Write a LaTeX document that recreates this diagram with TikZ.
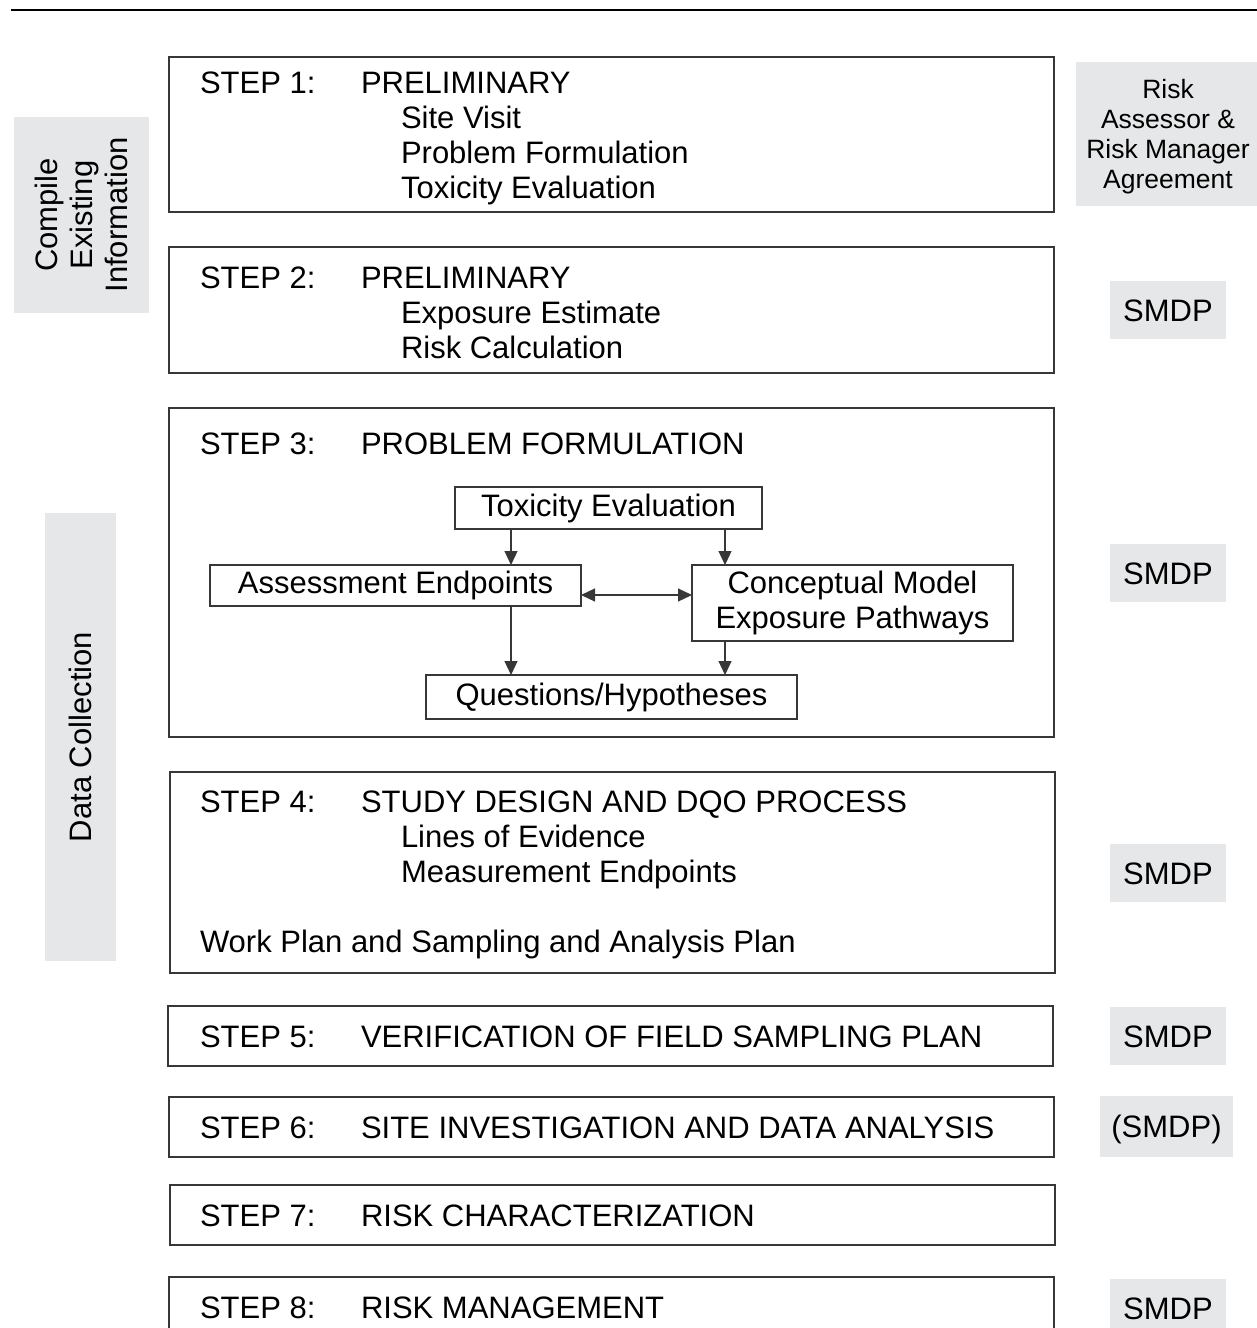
\documentclass[tikz,border=0pt]{standalone}
\usepackage{fontspec}
\setmainfont{Liberation Sans}
\usetikzlibrary{arrows.meta}
\definecolor{panelgray}{RGB}{230,231,232}
\definecolor{framegray}{RGB}{55,55,55}
\begin{document}
\begin{tikzpicture}[x=1pt,y=-1pt,
  every node/.style={font=\fontsize{31}{35}\selectfont, inner sep=0pt, outer sep=0pt},
  stepbox/.style={draw=framegray, line width=1.3pt, anchor=north west},
  txt/.style={anchor=base west},
  subbox/.style={draw=framegray, line width=1.2pt, align=center},
  tag/.style={fill=panelgray, align=center},
  code/.style={tag, text height=22pt, text depth=0pt},
  flow/.style={line width=1.2pt, draw=framegray, -{Triangle[length=14pt,width=13pt]}},
  both/.style={line width=1.2pt, draw=framegray, {Triangle[length=14pt,width=13pt]}-{Triangle[length=14pt,width=13pt]}},
]
\useasboundingbox (0,0) rectangle (1257,1328);

% rule across the top
\coordinate (ruleL) at (11,10);
\coordinate (ruleR) at (1257,10);
\draw[line width=2.5pt] (ruleL) -- (ruleR);

% side labels
\node[tag, rotate=90, minimum width=196pt, minimum height=135pt] (compile) at (81.5,215)
  {Compile\\Existing\\Information};
\node[tag, rotate=90, minimum width=448pt, minimum height=71pt] (datacoll) at (80.5,737)
  {Data Collection};

% step frames
\node[stepbox, minimum width=885pt, minimum height=155pt] (b1) at (169,57) {};
\node[stepbox, minimum width=885pt, minimum height=126pt] (b2) at (169,247) {};
\node[stepbox, minimum width=885pt, minimum height=329pt] (b3) at (169,408) {};
\node[stepbox, minimum width=885pt, minimum height=201pt] (b4) at (170,772) {};
\node[stepbox, minimum width=885pt, minimum height=60pt] (b5) at (168,1006) {};
\node[stepbox, minimum width=885pt, minimum height=60pt] (b6) at (169,1097) {};
\node[stepbox, minimum width=885pt, minimum height=60pt] (b7) at (170,1185) {};
\node[stepbox, minimum width=885pt, minimum height=90pt] (b8) at (169,1277) {};

% step 1
\node[txt] (s1) at (200,93) {STEP 1:};
\node[txt] (s1t) at (361,93) {PRELIMINARY};
\node[txt] (s1a) at (401,128) {Site Visit};
\node[txt] (s1b) at (401,163) {Problem Formulation};
\node[txt] (s1c) at (401,198) {Toxicity Evaluation};

% step 2
\node[txt] (s2) at (200,288) {STEP 2:};
\node[txt] (s2t) at (361,288) {PRELIMINARY};
\node[txt] (s2a) at (401,323) {Exposure Estimate};
\node[txt] (s2b) at (401,358) {Risk Calculation};

% step 3
\node[txt] (s3) at (200,454) {STEP 3:};
\node[txt] (s3t) at (361,454) {PROBLEM FORMULATION};
\node[subbox, minimum width=307pt, minimum height=42pt] (tox) at (608.5,508) {Toxicity Evaluation};
\node[subbox, minimum width=371pt, minimum height=41pt] (assess) at (395.5,585.5) {Assessment Endpoints};
\node[subbox, minimum width=321pt, minimum height=76pt] (concept) at (852.5,603) {Conceptual Model\\Exposure Pathways};
\node[subbox, minimum width=371pt, minimum height=44pt] (quest) at (611.5,697) {Questions/Hypotheses};

\draw[flow] (tox.south -| 511,0) -- (assess.north -| 511,0);
\draw[flow] (tox.south -| 725,0) -- (concept.north -| 725,0);
\draw[flow] (assess.south -| 511,0) -- (quest.north -| 511,0);
\draw[flow] (concept.south -| 725,0) -- (quest.north -| 725,0);
\draw[both] (assess.east |- 0,595) -- (concept.west |- 0,595);

% step 4
\node[txt] (s4) at (200,812) {STEP 4:};
\node[txt] (s4t) at (361,812) {STUDY DESIGN AND DQO PROCESS};
\node[txt] (s4a) at (401,847) {Lines of Evidence};
\node[txt] (s4b) at (401,882) {Measurement Endpoints};
\node[txt] (s4c) at (200,952) {Work Plan and Sampling and Analysis Plan};

% steps 5 to 8
\node[txt] (s5) at (200,1047) {STEP 5:};
\node[txt] (s5t) at (361,1047) {VERIFICATION OF FIELD SAMPLING PLAN};
\node[txt] (s6) at (200,1138) {STEP 6:};
\node[txt] (s6t) at (361,1138) {SITE INVESTIGATION AND DATA ANALYSIS};
\node[txt] (s7) at (200,1226) {STEP 7:};
\node[txt] (s7t) at (361,1226) {RISK CHARACTERIZATION};
\node[txt] (s8) at (200,1318) {STEP 8:};
\node[txt] (s8t) at (361,1318) {RISK MANAGEMENT};

% decision points on the right
\node[tag, minimum width=183pt, minimum height=144pt] (agree) at (1167.5,134) {};
\node[align=center, font=\fontsize{26.5}{30}\selectfont] (agreetext) at (1168,137)
  {Risk\\Assessor \&\\Risk Manager\\Agreement};
\node[code, minimum width=116pt, minimum height=58pt] (d2) at (1168,310) {SMDP};
\node[code, minimum width=116pt, minimum height=58pt] (d3) at (1168,573) {SMDP};
\node[code, minimum width=116pt, minimum height=58pt] (d4) at (1168,873) {SMDP};
\node[code, minimum width=116pt, minimum height=58pt] (d5) at (1168,1036) {SMDP};
\node[code, minimum width=133pt, minimum height=61pt] (d6) at (1166.5,1126.5) {(SMDP)};
\node[code, minimum width=116pt, minimum height=58pt] (d8) at (1168,1308) {SMDP};
\end{tikzpicture}
\end{document}
